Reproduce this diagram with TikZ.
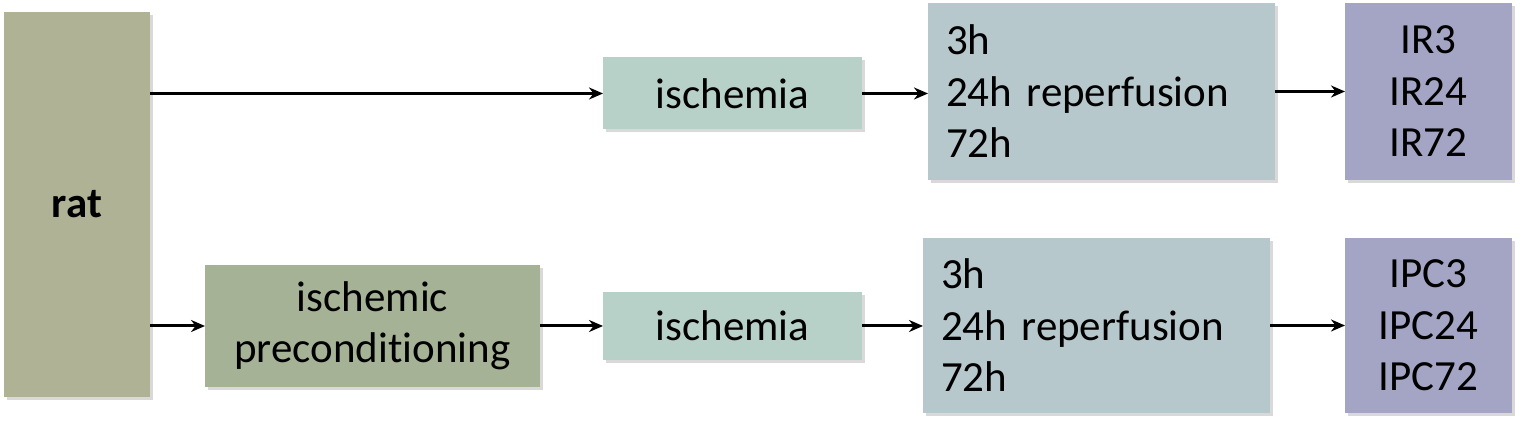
\documentclass[tikz,border=0pt]{standalone}
\usepackage{fontspec}
\setmainfont{Carlito}[RawFeature=-liga]
\usetikzlibrary{arrows.meta, calc, shadows}

\definecolor{ratcol}{RGB}{176,178,150}
\definecolor{ipccol}{RGB}{165,178,150}
\definecolor{ischcol}{RGB}{183,208,200}
\definecolor{repcol}{RGB}{183,200,205}
\definecolor{grpcol}{RGB}{164,164,196}

\begin{document}
\begin{tikzpicture}[x=0.5pt,y=-0.5pt]
    \tikzset{BoxStyle/.style = {shape = rectangle, inner sep = 0, outer sep = 0,
        font = \fontsize{21.5}{25.75}\selectfont,
        drop shadow = {shadow xshift = 1.5pt, shadow yshift = -1.5pt, opacity = 0.25, fill = black!60}},
        ArrowStyle/.style = {-{Stealth[length=7pt,width=6pt]}, line width = 1.5pt}}
    \useasboundingbox (0,0) rectangle (1524,426);

    \node[BoxStyle, fill = ratcol, minimum width = 73pt, minimum height = 192.5pt,
        font = \fontsize{21.5}{25.75}\selectfont\bfseries] at (77,204.5) (rat) {rat};
    \node[BoxStyle, fill = ipccol, minimum width = 167.5pt, minimum height = 61pt,
        align = center] at (372.5,326) (ipc) {ischemic\\preconditioning};
    \node[BoxStyle, fill = ischcol, minimum width = 129.5pt, minimum height = 36pt] at (732.5,93.5) (isch1) {ischemia};
    \node[BoxStyle, fill = ischcol, minimum width = 129.5pt, minimum height = 34pt] at (732.5,326) (isch2) {ischemia};
    \node[BoxStyle, fill = repcol, minimum width = 173.5pt, minimum height = 88.5pt,
        text width = 155.5pt, align = left] at (1101.5,91.5) (rep1) {3h\\24h reperfusion\\72h};
    \node[BoxStyle, fill = repcol, minimum width = 173.5pt, minimum height = 87.5pt,
        text width = 155.5pt, align = left] at (1096.5,325.5) (rep2) {3h\\24h reperfusion\\72h};
    \node[BoxStyle, fill = grpcol, minimum width = 83.5pt, minimum height = 88.5pt,
        align = center] at (1428.5,91.5) (ir) {IR3\\IR24\\IR72};
    \node[BoxStyle, fill = grpcol, minimum width = 83.5pt, minimum height = 87.5pt,
        align = center] at (1428.5,325.5) (ipcg) {IPC3\\IPC24\\IPC72};

    \draw[ArrowStyle] (rat.east |- isch1.west) -- (isch1.west);
    \draw[ArrowStyle] (rat.east |- ipc.west) -- (ipc.west);
    \draw[ArrowStyle] (ipc.east) -- (isch2.west);
    \draw[ArrowStyle] (isch1.east) -- (isch1.east -| rep1.west);
    \draw[ArrowStyle] (isch2.east) -- (isch2.east -| rep2.west);
    \draw[ArrowStyle] (rep1.east |- ir.west) -- (ir.west);
    \draw[ArrowStyle] (rep2.east |- ipcg.west) -- (ipcg.west);
\end{tikzpicture}
\end{document}
